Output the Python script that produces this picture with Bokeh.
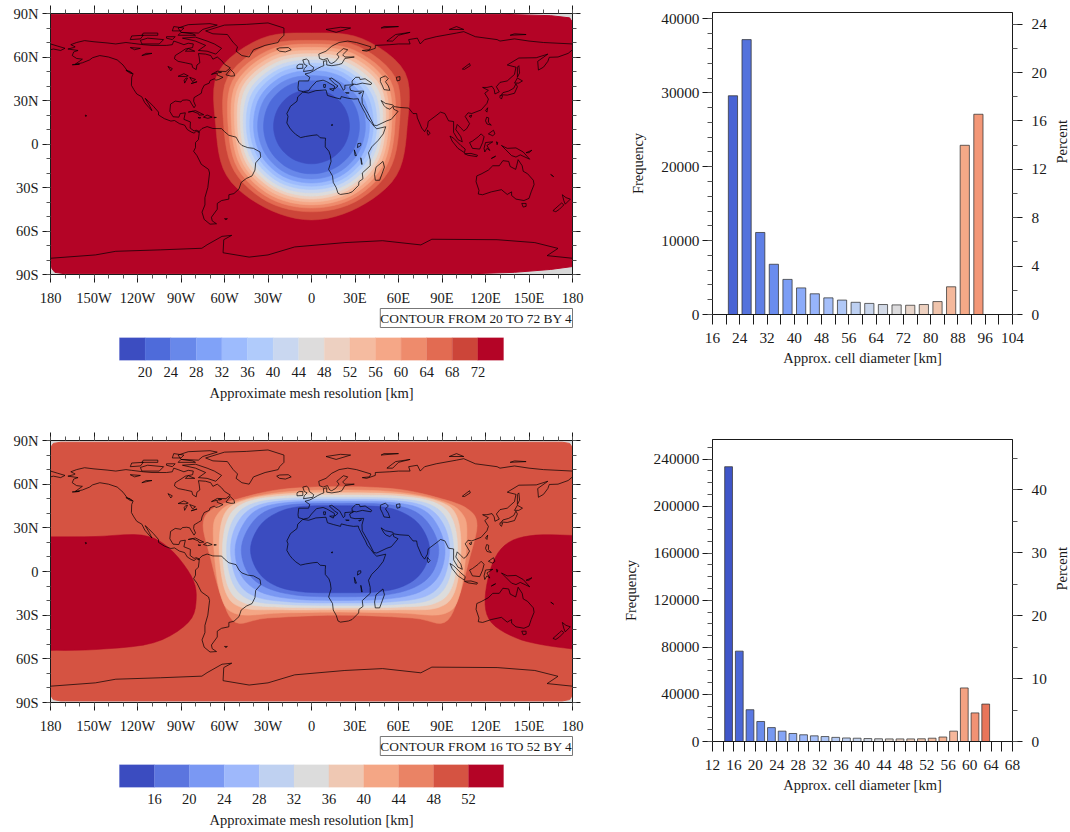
import math
from bokeh.plotting import figure
from bokeh.layouts import column, row
from bokeh.models import Range1d, LinearAxis, FixedTicker, Title, Spacer, PrintfTickFormatter
from bokeh.embed import file_html
from bokeh.resources import INLINE

FONT = "Liberation Serif"
INK = "#1a1a1a"

# ---------- histogram data ----------
hist1_centers = [22, 26, 30, 34, 38, 42, 46, 50, 54, 58, 62, 66, 70, 74, 78, 82, 86, 90, 94]
hist1_freq = [29600, 37200, 11100, 6800, 4750, 3600, 2800, 2250, 1950, 1650, 1500, 1350, 1300, 1250, 1350, 1750, 3750, 22900, 27100]
hist1_colors = ["#4863D4", "#5472DC", "#5F7FE6", "#6A8CEE", "#7B9DF5", "#8BABF9", "#97B4FB", "#A5BFFA", "#B0C8F7", "#BDD0F2",
                "#C8D5EC", "#D2D9E6", "#DCDBDD", "#E8D5CA", "#EDD0BF", "#F0C4AC", "#F4B89B", "#F4A987", "#F39777"]
hist2_centers = [15, 17, 19, 21, 23, 25, 27, 29, 31, 33, 35, 37, 39, 41, 43, 45, 47, 49, 51, 53, 55, 57, 59, 61, 63]
hist2_freq = [233500, 76800, 27000, 17000, 11800, 8800, 6800, 5700, 4800, 4200, 3500, 3000, 2800, 2500, 2300, 2200, 2200, 2200, 2300, 2800, 3800, 8800, 45500, 24300, 31800]
hist2_colors = ["#3F55C8", "#4A66D6", "#5A78E2", "#6A8CEC", "#7799F2", "#85A5F6", "#92B0F9", "#9DB8FB", "#A6C0FA", "#AEC6F8",
                "#B6CBF5", "#BDCFF2", "#C4D3EE", "#CFD7E6", "#D6D8DF", "#E0D5CF", "#E8D0C3", "#EDCBB7", "#F0C5AC", "#F3BC9F",
                "#F4B292", "#F6B79B", "#F4A282", "#F19274", "#E8755A"]

# ---------- colour bars ----------
levels1 = [20, 24, 28, 32, 36, 40, 44, 48, 52, 56, 60, 64, 68, 72]
colors1 = ["#3C4DC1", "#4E6BDA", "#6888EA", "#80A2F8", "#9DBBFD", "#B0CBFB", "#C9D7F0", "#DDDCDC", "#EDD0C1", "#F5BBA0",
           "#F5A787", "#EE8B6C", "#E26B52", "#CC4539", "#B40426"]
levels2 = [16, 20, 24, 28, 32, 36, 40, 44, 48, 52]
colors2 = ["#3B4CC0", "#5B75DF", "#7A98F3", "#9EB8FB", "#BFD1F1", "#DCDCDC", "#EFC8B3", "#F4A685", "#EA8365", "#D55342", "#B40426"]

# ---------- map 1 contours: radius (deg) from centre per bearing ----------
m1_center = (0, 12)
m1_bearings = [0, 30, 60, 90, 120, 150, 180]
m1_radii = [
    [64.6, 70.0, 74.5, 66.0, 67.6, 64.4, 64.4],  # 72
    [59.5, 64.0, 67.0, 60.5, 61.5, 60.0, 58.8],  # 68
    [57.0, 60.5, 63.0, 57.5, 58.5, 57.3, 56.2],  # 64
    [54.7, 58.0, 60.0, 55.2, 56.0, 55.0, 54.0],  # 60
    [52.5, 55.5, 57.5, 53.0, 53.8, 52.8, 52.0],  # 56
    [50.3, 53.0, 55.0, 51.0, 51.6, 50.6, 50.0],  # 52
    [48.2, 50.5, 52.5, 49.0, 49.5, 48.7, 48.0],  # 48
    [46.0, 48.0, 49.5, 47.0, 47.3, 46.6, 45.7],  # 44
    [43.8, 45.5, 47.0, 45.0, 45.0, 44.3, 43.4],  # 40
    [41.4, 43.0, 44.0, 42.6, 42.5, 42.0, 41.1],  # 36
    [38.6, 40.0, 41.0, 40.0, 40.0, 39.5, 38.9],  # 32
    [35.2, 36.6, 37.6, 37.2, 37.0, 36.6, 36.1],  # 28
    [31.7, 32.6, 33.2, 33.1, 33.0, 32.8, 32.6],  # 24
    [25.3, 26.0, 26.2, 26.2, 26.0, 25.8, 25.7],  # 20
]
m1_base = [(-180, 89.5), (130, 89.5), (165, 88.5), (178, 87), (180, 84), (180, -84.5), (165, -86.5), (140, -88.5), (110, -89.5),
           (-170, -89.5), (-177, -88.5), (-179, -86), (-180, -80)]

# ---------- map 2 contours: half outlines (east of the axis) ----------
m2_axis = 19.7
m2_rings = [
    [(0, 58.3), (40, 56.5), (70, 50), (88, 43), (94.5, 32), (89, 8), (82, -17), (72, -35), (50, -32), (0, -30)],
    [(0, 56), (40, 54.5), (70, 48.5), (84, 40), (87.5, 25), (83, -14), (72, -29), (40, -28.5), (0, -27.9)],
    [(0, 54.1), (40, 53.2), (67, 48.5), (80, 39), (83.4, 15), (79, -14), (67, -25), (40, -26.3), (0, -26.3)],
    [(0, 52.5), (40, 51.8), (65, 47.5), (77, 37), (81.1, 15), (77, -11), (65, -22), (40, -24.5), (0, -24.9)],
    [(0, 50.9), (38, 50.2), (62, 46), (74, 35), (78.3, 15), (74, -8), (62, -19.5), (38, -22.7), (0, -23.3)],
    [(0, 49.5), (37, 48.8), (59, 44.5), (71, 33), (75.6, 15), (71, -6), (59, -17), (35, -20.9), (0, -21.7)],
    [(0, 48.2), (35, 47.5), (56, 43), (67, 32), (72.4, 15), (68, -3), (55, -14), (33, -18.8), (0, -19.9)],
    [(0, 46.8), (33, 46), (52, 41), (63, 30), (68.1, 15), (63.5, -1), (51, -11), (30, -16.3), (0, -17.4)],
    [(0, 45.2), (30, 44.3), (47, 38.5), (57, 29), (61.8, 15), (57, 0.5), (46, -9), (28, -13.8), (0, -14.6)],
]
m2_base = [(-180, 85), (-178, 88), (-173, 88.8), (173, 88.8), (178, 88), (180, 85), (180, -85), (178, -88), (173, -88.9),
           (-173, -88.9), (-178, -88), (-180, -85)]
m2_blob_w = [(-180, 23.8), (-150, 24), (-117, 25), (-98.6, 16.4), (-83, -3), (-79.5, -19), (-85, -35), (-109, -49), (-148.6, -53.6), (-180, -54.2)]
m2_blob_e = [(180, 24.8), (154.5, 25), (136, 20), (125, 6), (119.7, -19), (124, -35), (141, -45.6), (160, -50.5), (180, -53.2)]

# ---------- coastlines ----------
coasts = [
    # North America
    [(-168, 65.5), (-164, 66.5), (-163, 67), (-166, 68.5), (-162, 70), (-156.5, 71.3), (-150, 70.5), (-141, 69.7), (-135, 69), (-128, 70), (-124, 69.5),
     (-116, 68.5), (-110, 68), (-100, 68), (-96, 68.5), (-95, 71), (-92, 70), (-88, 68.5), (-85, 69.5), (-81.5, 69), (-82, 66.5), (-87, 65.5), (-90, 63.5),
     (-94, 61), (-94.5, 58.8), (-92, 57), (-87, 56), (-82.5, 55), (-82, 52.8), (-79.5, 51.3), (-79, 54.5), (-77, 56), (-77.5, 60), (-78, 62.4), (-73, 62),
     (-69.5, 61), (-68, 58.5), (-65, 60), (-62, 57.5), (-60, 55), (-56, 52.5), (-59, 50), (-65, 50.2), (-69, 48), (-65, 49), (-65, 47.5), (-61, 46), (-64, 44.5),
     (-66, 44), (-67, 45), (-70, 43.7), (-70.5, 42), (-74, 40.5), (-75.5, 37.5), (-76, 35), (-78, 33.8), (-81, 32), (-81.3, 29.5), (-80, 26.5), (-81, 25),
     (-82.7, 27.7), (-84, 30), (-86, 30.4), (-89, 30.2), (-90, 29), (-94, 29.6), (-97.2, 27.5), (-97.7, 22.5), (-95.5, 18.8), (-91.5, 18.5), (-90.5, 21),
     (-87, 21.5), (-88, 17), (-83.5, 15.2), (-83.7, 11), (-81, 9), (-79.5, 9.5), (-77.5, 8.7), (-77.5, 8), (-79.5, 8.8), (-81, 7.5), (-83, 8.3), (-85.7, 10),
     (-87.5, 13), (-91, 14), (-94.5, 16.2), (-97, 15.8), (-101.5, 17.5), (-105.5, 20), (-105.5, 22), (-109, 26), (-112.5, 29.5), (-114.7, 31.5), (-112, 27),
     (-110, 23), (-112, 25), (-115, 28.5), (-117, 32.5), (-120.5, 34.5), (-122.5, 37.5), (-124.2, 40.5), (-124, 46), (-123, 48.5), (-127, 50.5), (-130, 54.5),
     (-134, 58), (-140, 60), (-146, 61), (-151, 59.5), (-153, 58), (-158, 56), (-163, 55), (-158, 58.5), (-162, 59), (-165, 61), (-164, 63.5), (-161, 64.5), (-168, 65.5)],
    # South America
    [(-77.5, 8.7), (-75.5, 10.7), (-72, 12), (-68, 10.7), (-62, 10.6), (-60, 8.5), (-57, 6), (-52, 4.7), (-50, 1), (-48, -1), (-44, -2.5), (-40, -3), (-35.5, -5.5),
     (-35, -9), (-38.5, -13), (-39, -18), (-41, -22), (-45, -23.8), (-48.5, -26.5), (-50, -31), (-53.5, -34.2), (-57, -35), (-57, -38), (-62, -39), (-65, -41),
     (-65, -45), (-69, -50.5), (-68.5, -53), (-65.5, -55), (-70, -55.3), (-74, -52), (-75.5, -47), (-73.5, -42), (-73.5, -37), (-71.5, -30), (-70.3, -20), (-71, -17.5),
     (-76, -14), (-79, -8), (-81.3, -5), (-80, -2.5), (-80, 1), (-78, 3), (-77.5, 7), (-77.5, 8.7)],
    # Africa
    [(-6, 35.8), (-2, 35.2), (3, 36.8), (10, 37.3), (11, 33.5), (15, 32.3), (20, 31), (20.5, 32.7), (25, 31.6), (29, 31), (32.3, 31.2), (32.6, 29.8), (35, 25),
     (37.2, 21), (38.5, 18), (41, 15), (43.3, 12), (45, 10.5), (51.2, 11.9), (49.5, 7), (46, 2.5), (41.5, -2), (39.3, -6), (40.5, -11), (40.5, -15), (35, -20),
     (35.5, -24), (32.7, -26), (32.5, -28.5), (28, -33), (25.5, -34), (20, -34.8), (18.3, -34), (17, -30), (15, -26.5), (14.5, -22), (11.8, -17.5), (13.5, -12),
     (13, -8), (12, -5), (9.5, -2), (9.5, 1.5), (9.7, 4), (6, 4.3), (4, 6.3), (1, 6), (-4, 5.2), (-7.5, 4.4), (-11, 6.7), (-13.3, 9), (-15, 11), (-17, 14.5),
     (-16.2, 19), (-17, 21), (-14.5, 26), (-10, 29.5), (-9.5, 32.5), (-6, 35.8)],
    # Eurasia
    [(-9, 37), (-9.3, 39), (-8.8, 43.5), (-2, 43.5), (-1.2, 46), (-4.5, 48.3), (-1.5, 49), (1.5, 50.5), (4, 52), (7, 53.5), (8.5, 54), (8.2, 57), (10.5, 57.5),
     (10.5, 54.5), (14, 54), (18.5, 54.7), (21, 55.5), (23, 59), (29.5, 60), (23, 60), (21.5, 61.5), (25, 65), (22, 65.8), (17.5, 62), (19, 60), (16.5, 57),
     (14, 55.5), (12.5, 56), (11, 59), (8, 58), (5.5, 59), (5, 62), (10, 64), (14, 67.5), (19, 70), (25, 71), (31, 70), (41, 67), (40, 65), (35, 64.5), (38, 64),
     (44, 66), (44, 68), (54, 68.5), (60, 69), (68, 69), (67, 72), (73, 73), (75, 69), (78, 72), (86, 74), (100, 76.5), (105, 77.5), (113, 74), (128, 72), (130, 71),
     (140, 72.5), (150, 71), (160, 70), (170, 69.5), (180, 69)],
    [(-180, 69), (-175, 67.5), (-170, 66), (-173, 64.5), (-178, 65.5), (-180, 65)],
    [(180, 65), (177, 62.5), (170, 60), (164, 59.8), (163, 57), (160, 53), (156.5, 51), (156, 57), (163, 62), (155, 59.5), (143, 59.3), (135, 54.5), (141, 53),
     (140, 48), (135, 43.5), (130, 42.5), (127.5, 39.5), (129.5, 36), (126.5, 34.5), (126, 37.5), (124.5, 39.8), (121, 39), (118, 39), (122, 37), (119.5, 35),
     (122, 31), (121, 28), (117, 23.5), (110.5, 21), (108, 21.5), (106, 19), (109, 14), (107, 10.5), (105, 9), (103, 11), (100.5, 13.5), (99.5, 10), (103, 5),
     (104, 1.5), (101, 3), (98, 8), (98, 15.5), (94.5, 16), (92, 21), (89, 22), (86.5, 20), (80.5, 15.5), (80, 12), (78, 8.5), (76, 11), (73, 18), (72.5, 21),
     (70, 21), (67, 24.8), (61, 25.2), (57, 25.8), (56, 27), (51, 28), (48, 30), (50, 26.5), (51.5, 25), (54, 24), (56.3, 26), (56.7, 24), (59.7, 22.5), (55, 17),
     (52, 16), (45, 12.7), (43, 13), (39, 21), (35, 28), (34.8, 32), (36, 36.5), (30, 36.3), (27, 37), (26.3, 39.5), (29, 41), (26, 40.7), (23, 40.5), (23, 38),
     (22, 37), (19.5, 41.5), (14, 45.5), (12.3, 45), (16, 41.5), (18.3, 40), (16, 38), (15.7, 40), (10.5, 43), (8, 44), (3.5, 43.2), (0, 39.5), (-2, 36.8),
     (-5.5, 36), (-9, 37)],
    # Inland seas and lakes
    [(28, 41.5), (28, 43.5), (30.5, 46), (33, 46), (33.5, 44.5), (37, 45), (41.5, 42), (41, 41), (35, 42), (31, 41), (28, 41.5)],
    [(47.5, 45.5), (51, 47), (53, 45), (51, 43), (53, 40), (54, 37), (50, 37.5), (49, 40), (47.5, 43), (47.5, 45.5)],
    [(58.5, 46), (61, 46.5), (61, 44), (59, 43.5), (58.5, 46)],
    [(104, 51.7), (109, 55.5), (109.5, 54), (105.5, 51.5), (104, 51.7)],
    [(31.7, -2.5), (34, -1), (34, 0.5), (32, 0.3), (31.7, -2.5)],
    [(29.5, -4), (30, -8), (31, -8), (29.5, -4)],
    [(34, -9.5), (34.5, -14), (35, -14), (34, -9.5)],
    [(13.5, 13), (14.5, 13.5), (14.5, 12.8), (13.5, 13)],
    [(-92, 46.7), (-88, 48.5), (-85, 47), (-87, 46.5), (-92, 46.7)],
    [(-87.5, 42), (-85.5, 45.5), (-86.5, 45.5), (-87.8, 44), (-87.5, 42)],
    [(-84, 46), (-80, 44.5), (-82, 43), (-84, 46)],
    [(-83, 41.7), (-79, 42.8), (-79, 43), (-83, 41.7)],
    [(-125, 66.5), (-118, 66), (-122, 65), (-125, 66.5)],
    [(-117, 61), (-110, 62.5), (-114, 62.5), (-117, 61)],
    [(-99, 53.5), (-97, 50.5), (-96, 52), (-99, 53.5)],
    # Greenland and the Arctic
    [(-73, 78), (-68, 76), (-58, 75.5), (-54, 70), (-51, 67), (-52, 64), (-48, 61), (-43, 60), (-40, 65), (-32, 68), (-23, 70), (-22, 72), (-19, 75), (-19, 80),
     (-30, 83.5), (-45, 82.5), (-60, 82), (-73, 78)],
    [(-62, 66), (-66, 62), (-72, 64), (-78, 64.5), (-73, 68), (-80, 71), (-89, 73), (-80, 73.7), (-72, 71), (-67, 69), (-62, 66)],
    [(-90, 77), (-78, 76.5), (-75, 79), (-65, 82), (-70, 83), (-85, 82.3), (-92, 80), (-90, 77)],
    [(-117, 69), (-105, 69), (-102, 72), (-113, 73), (-118, 71.5), (-117, 69)],
    [(-125, 72), (-118, 72.5), (-116, 75), (-124, 74.5), (-125, 72)],
    [(-92, 75), (-80, 75), (-82, 76), (-90, 77), (-92, 75)],
    [(-117, 75), (-106, 75), (-106, 76.5), (-116, 76.5), (-117, 75)],
    [(-100, 73), (-96, 72), (-94, 74), (-100, 74), (-100, 73)],
    [(-96, 78), (-90, 78), (-88, 80), (-95, 81), (-96, 78)],
    [(-87, 64), (-80.5, 64), (-85, 65.8), (-87, 64)],
    [(-59, 47.7), (-55.5, 46.8), (-53, 47), (-53.5, 49), (-56, 51.5), (-59, 47.7)],
    [(-64, 49), (-62, 49.5), (-64, 49.8), (-64, 49)],
    [(-24, 65.5), (-22, 64), (-18, 63.5), (-14, 65), (-16, 66.5), (-22, 66.3), (-24, 65.5)],
    [(10, 79), (20, 80.5), (27, 80), (17, 77), (10, 79)],
    [(52, 71), (56, 71), (60, 75), (68, 77), (58, 75.5), (52, 71)],
    [(95, 79), (105, 79), (100, 81), (95, 79)],
    [(137, 75), (148, 75.5), (140, 76), (137, 75)],
    [(48, 80), (60, 81), (50, 81), (48, 80)],
    # Europe
    [(-5.5, 50), (1, 51), (1.5, 52.8), (-1.5, 55), (-2, 57.5), (-3.5, 58.6), (-6, 58), (-5, 55), (-3, 54), (-5, 52), (-5.5, 50)],
    [(-10, 52), (-6, 52.2), (-6, 55), (-8.5, 55), (-10, 54), (-10, 52)],
    [(12.5, 38), (15.5, 38.2), (15, 36.7), (12.5, 38)],
    [(8.3, 41), (9.7, 41), (9.5, 39), (8.5, 39), (8.3, 41)],
    [(23.5, 35.5), (26, 35.2), (24, 35), (23.5, 35.5)],
    [(32.5, 35), (34.5, 35.5), (33, 34.7), (32.5, 35)],
    # East Asia and the islands
    [(131, 34), (135, 33.7), (140, 35), (142, 39.5), (141, 41.5), (139.5, 38.5), (136, 36.5), (132, 35.4), (131, 34)],
    [(140, 42), (143, 42), (145.5, 43.5), (142, 45.5), (140, 42)],
    [(130, 33.5), (131.8, 33.3), (131, 31), (130, 32), (130, 33.5)],
    [(142, 46), (143.5, 49), (143, 54), (142, 53), (142, 46)],
    [(120, 23), (121.5, 25), (121, 22), (120, 23)],
    [(108.7, 19.2), (110.5, 20), (110, 18.3), (108.7, 19.2)],
    [(120, 16), (120.8, 18.5), (122.2, 18), (122, 15), (124, 13), (121, 13.8), (120, 16)],
    [(122, 7), (125.5, 9.5), (126.5, 7), (125, 5.7), (122, 7)],
    [(109, 1), (111, 2), (115, 5), (117, 7), (119, 5), (118, 1), (116, -3.5), (111, -3), (109, 1)],
    [(95.5, 5.5), (98, 4), (103, -1), (106, -3.5), (105.5, -6), (101, -3), (97, 2), (95.5, 5.5)],
    [(105.5, -6.7), (110, -6.5), (114.5, -7.8), (114, -8.7), (108, -7.8), (105.5, -6.7)],
    [(119.5, -5.5), (119, -3), (120, 1), (125, 1.5), (121, -1), (123, -4.5), (121, -3), (119.5, -5.5)],
    [(131, -1), (135, -3), (141, -2.7), (146, -5.5), (150.5, -10.5), (144, -7.5), (141, -9), (138, -8), (134, -4), (131, -1)],
    [(148, -6), (152, -4.3), (150, -6), (148, -6)],
    [(124, -10), (127, -8.4), (124, -10)],
    [(127.5, 1.5), (128, -0.5), (128.5, 1), (127.5, 1.5)],
    [(-165, 54.5), (-160, 55), (-165, 54.8)],
    # Oceania
    [(114, -22), (113.5, -26), (115.5, -32), (115, -34.5), (118, -35), (124, -33), (131, -31.5), (135, -34.8), (138, -33), (138, -35.5), (141, -38), (146.5, -39),
     (150, -37.5), (151.5, -33), (153.5, -28), (153, -25), (149, -20.5), (146, -18.8), (145.3, -15), (142.5, -10.8), (141.5, -15), (140.8, -17.5), (137, -15.5),
     (136, -12), (132, -11.5), (129.5, -15), (125, -15), (122, -18), (117, -20.7), (114, -22)],
    [(145, -41), (148, -41), (148, -43), (146, -43.5), (145, -41)],
    [(173, -35), (175.5, -37), (178.5, -38), (175, -41.5), (174, -39), (173, -35)],
    [(172.5, -40.7), (174, -42), (171, -45), (168.5, -46.7), (166.5, -46), (171, -42), (172.5, -40.7)],
    [(165, -21), (167, -22.5), (165.5, -21.5), (165, -21)],
    # Indian Ocean and Caribbean
    [(49.3, -12), (50.3, -16), (47, -25), (44, -25), (43.5, -21), (44.5, -16), (49.3, -12)],
    [(80, 9.7), (81.8, 7.5), (80.5, 6), (79.8, 8), (80, 9.7)],
    [(-85, 22), (-80, 23), (-74.3, 20.2), (-77.5, 19.9), (-78, 21), (-82, 22.5), (-85, 22)],
    [(-74.5, 18.5), (-72, 20), (-68.5, 18.5), (-71.5, 17.7), (-74.5, 18.5)],
    [(-67.2, 18), (-65.6, 18.3), (-67.2, 18.5), (-67.2, 18)],
    [(-78.3, 18.3), (-76.3, 18.1), (-77.5, 17.8), (-78.3, 18.3)],
    [(-128, 50.8), (-125, 50), (-123.5, 48.5), (-125, 48.8), (-128, 50.8)],
    [(-60, -51.5), (-58, -51.5), (-59, -52.3), (-60, -51.5)],
    [(-156, 20), (-155, 19.5), (-155.8, 19), (-156, 20)],
    # Antarctica
    [(-180, -78.8), (-149, -76.5), (-135, -74), (-104, -73), (-75.6, -71.9), (-72, -69.5), (-61.7, -63.7), (-55, -63), (-60.5, -66), (-61, -75), (-43, -78),
     (-30, -76.5), (-11.6, -71), (23, -68), (49, -66.7), (75.4, -69.6), (83, -65.7), (128, -66), (154, -68), (170, -72), (162.5, -77), (180, -78.8)],
]


def smooth(points, closed=True, steps=6):
    n = len(points)
    out = []
    seg = n if closed else n - 1
    for i in range(seg):
        if closed:
            p0, p1, p2, p3 = points[i - 1], points[i], points[(i + 1) % n], points[(i + 2) % n]
        else:
            p0, p1, p2, p3 = points[max(i - 1, 0)], points[i], points[i + 1], points[min(i + 2, n - 1)]
        for s in range(steps):
            t = s / steps
            out.append(tuple(0.5 * (2 * p1[k] + (p2[k] - p0[k]) * t + (2 * p0[k] - 5 * p1[k] + 4 * p2[k] - p3[k]) * t ** 2
                                    + (3 * p1[k] - p0[k] - 3 * p2[k] + p3[k]) * t ** 3) for k in (0, 1)))
    if not closed:
        out.append(points[-1])
    return out


def ring_from_radii(radii):
    east = [(radii[i] * math.sin(math.radians(b)), radii[i] * math.cos(math.radians(b))) for i, b in enumerate(m1_bearings)]
    west = [(-x, y) for x, y in east[-2:0:-1]]
    pts = [(m1_center[0] + x, m1_center[1] + y) for x, y in east + west]
    return smooth(pts)


def ring_from_half(half):
    west = [(-x, y) for x, y in half[-2:0:-1]]
    pts = [(m2_axis + x, y) for x, y in half + west]
    return smooth(pts)


LEFT_W = 618


def map_figure(top, frame_h, bottom, base, base_color, fill_rings, label_text):
    left, right = 50, LEFT_W - 50 - 522
    p = figure(width=LEFT_W, height=top + frame_h + bottom, x_range=Range1d(-180, 180), y_range=Range1d(-90, 90),
               toolbar_location=None, output_backend="svg", min_border_left=left, min_border_right=right,
               min_border_top=top, min_border_bottom=bottom, x_axis_location=None, y_axis_location=None)
    p.grid.visible = False
    p.outline_line_color = INK
    p.background_fill_color = "#D8D8D8"
    p.patch([c[0] for c in base], [c[1] for c in base], fill_color=base_color, line_color=base_color)
    for pts, col in fill_rings:
        p.patch([c[0] for c in pts], [c[1] for c in pts], fill_color=col, line_color=col, line_width=0.5)
    p.multi_line([[c[0] for c in line] for line in coasts], [[c[1] for c in line] for line in coasts], line_color="#000000", line_width=0.7)

    lon_major = list(range(-180, 181, 30))
    lon_minor = list(range(-180, 181, 10))
    lat_major = list(range(-90, 91, 30))
    lat_minor = list(range(-90, 91, 10))
    lon_text = {v: ("180" if abs(v) == 180 else "0" if v == 0 else f"{abs(v)}{'W' if v < 0 else 'E'}") for v in lon_major}
    lat_text = {v: ("0" if v == 0 else f"{abs(v)}{'S' if v < 0 else 'N'}") for v in lat_major}
    for side, is_x in (("below", True), ("left", False), ("above", True), ("right", False)):
        ax = LinearAxis(ticker=FixedTicker(ticks=lon_major if is_x else lat_major, minor_ticks=lon_minor if is_x else lat_minor))
        ax.major_tick_out, ax.major_tick_in, ax.minor_tick_out, ax.minor_tick_in = 8, 0, 4, 0
        ax.axis_line_color = INK
        ax.major_tick_line_color = INK
        ax.minor_tick_line_color = "#555555"
        ax.major_label_text_font = FONT
        ax.major_label_text_color = INK
        if side in ("below", "left"):
            ax.major_label_overrides = lon_text if is_x else lat_text
            ax.major_label_text_font_size = "14.5px"
            ax.major_label_standoff = 7 if is_x else 4
        else:
            ax.major_label_overrides = {v: "" for v in (lon_major if is_x else lat_major)}
            ax.major_label_text_font_size = "1px"
            ax.major_label_standoff = 0
        p.add_layout(ax, side)
    p.add_layout(Title(text=label_text, align="right", text_font=FONT, text_font_size="13.4px", text_font_style="normal", text_color=INK,
                       text_line_height=0.8, border_line_color="#777777", background_fill_color="#ffffff", padding=(0, 2), standoff=-4), "below")
    return p


def bar_figure(levels, colors, height, top, frame_h):
    edges = [levels[0] - (levels[1] - levels[0])] + levels + [levels[-1] + (levels[-1] - levels[-2])]
    ppu = 384.0 / (edges[-1] - edges[0])     # pixels per km of the strip
    low = edges[0] - (119 - 50) / ppu
    high = edges[-1] + (572 - 503) / ppu
    p = figure(width=LEFT_W, height=height, x_range=Range1d(low, high), y_range=Range1d(0, 1), toolbar_location=None, output_backend="svg",
               min_border_left=50, min_border_right=LEFT_W - 50 - 522, min_border_top=top, min_border_bottom=height - top - frame_h,
               x_axis_location="below", y_axis_location=None)
    p.grid.visible = False
    p.outline_line_color = None
    p.quad(left=edges[:-1], right=edges[1:], bottom=0, top=1, fill_color=colors, line_color=colors, line_width=0.3)
    ax = p.xaxis[0]
    ax.ticker = FixedTicker(ticks=levels)
    ax.major_tick_out = 0
    ax.major_tick_in = 0
    ax.minor_tick_out = 0
    ax.minor_tick_in = 0
    ax.major_tick_line_color = None
    ax.minor_tick_line_color = None
    ax.axis_line_color = None
    ax.major_label_text_font = FONT
    ax.major_label_text_font_size = "14.5px"
    ax.major_label_text_color = INK
    ax.major_label_standoff = 6
    ax.axis_label = "Approximate mesh resolution [km]"
    ax.axis_label_text_font = FONT
    ax.axis_label_text_font_style = "normal"
    ax.axis_label_text_font_size = "14.5px"
    ax.axis_label_text_color = INK
    ax.axis_label_standoff = 5
    return p


def hist_figure(height, frame_h, top, centers, freq, colors, width_km, xr, x_major, x_minor, yr, pr, y_major, y_minor, p_major, p_minor, standoff_l):
    left, right = 94, 65
    p = figure(width=left + 303 + right, height=height, x_range=Range1d(*xr), y_range=Range1d(0, yr), toolbar_location=None, output_backend="svg",
               min_border_left=left, min_border_right=right, min_border_top=top, min_border_bottom=height - top - frame_h,
               x_axis_location=None, y_axis_location=None)
    p.extra_y_ranges = {"pct": Range1d(0, pr)}
    p.grid.visible = False
    p.outline_line_color = INK
    p.vbar(x=centers, top=freq, width=width_km, fill_color=colors, line_color="#333333", line_alpha=0.75, line_width=1)

    def style(ax):
        ax.major_label_text_font = FONT
        ax.major_label_text_font_size = "15.3px"
        ax.major_label_text_color = INK
        ax.axis_label_text_font = FONT
        ax.axis_label_text_font_style = "normal"
        ax.axis_label_text_font_size = "14.5px"
        ax.axis_label_text_color = INK
        ax.axis_line_color = INK
        ax.major_tick_line_color = INK
        ax.minor_tick_line_color = "#555555"

    bx = LinearAxis(ticker=FixedTicker(ticks=x_major, minor_ticks=x_minor), axis_label="Approx. cell diameter [km]")
    style(bx)
    bx.major_tick_out, bx.major_tick_in, bx.minor_tick_out, bx.minor_tick_in = 10, 0, 10, 0
    bx.minor_tick_line_color = INK
    bx.major_label_standoff = 8
    bx.axis_label_standoff = 4
    p.add_layout(bx, "below")

    ly = LinearAxis(ticker=FixedTicker(ticks=y_major, minor_ticks=y_minor), axis_label="Frequency", formatter=PrintfTickFormatter(format="%d"))
    style(ly)
    ly.major_tick_out, ly.major_tick_in, ly.minor_tick_out, ly.minor_tick_in = 10, 0, 5, 0
    ly.major_label_standoff = 3
    ly.axis_label_standoff = standoff_l
    p.add_layout(ly, "left")

    ry = LinearAxis(y_range_name="pct", ticker=FixedTicker(ticks=p_major, minor_ticks=p_minor), axis_label="Percent")
    style(ry)
    ry.major_tick_out, ry.major_tick_in, ry.minor_tick_out, ry.minor_tick_in = 10, 0, 5, 0
    ry.major_label_standoff = 9
    ry.axis_label_standoff = 12
    ry.axis_label_orientation = math.pi / 2
    p.add_layout(ry, "right")
    return p


rings1 = [(ring_from_radii(r), colors1[13 - i]) for i, r in enumerate(m1_radii)]
rings2 = [(smooth(m2_blob_w, closed=False, steps=5), colors2[10]), (smooth(m2_blob_e, closed=False, steps=5), colors2[10])]
rings2 += [(ring_from_half(h), colors2[8 - i]) for i, h in enumerate(m2_rings)]

map1 = map_figure(13, 261, 60, m1_base, colors1[14], rings1, "CONTOUR FROM 20 TO 72 BY 4")
cb1 = bar_figure(levels1, colors1, 72, 3, 23)
map2 = map_figure(10, 262, 60, m2_base, colors2[9], rings2, "CONTOUR FROM 16 TO 52 BY 4")
cb2 = bar_figure(levels2, colors2, 70, 2, 23)

hist1 = hist_figure(374, 302, 12, hist1_centers, hist1_freq, hist1_colors, 2.7, (16, 104),
                    list(range(16, 105, 8)), list(range(20, 105, 8)), 40870, 24.96,
                    list(range(0, 40001, 10000)), list(range(0, 40001, 2000)), list(range(0, 25, 4)), list(range(0, 25, 2)), 12)
hist2 = hist_figure(371, 302, 9, hist2_centers, hist2_freq, hist2_colors, 1.45, (12, 68),
                    list(range(12, 69, 4)), list(range(14, 69, 4)), 256640, 48,
                    list(range(0, 240001, 40000)), list(range(0, 250001, 10000)), list(range(0, 41, 10)), list(range(0, 46, 5)), 12)

left_col = column(map1, cb1, Spacer(height=24), map2, cb2, spacing=0)
right_col = column(hist1, Spacer(height=56), hist2, spacing=0)
root = row(left_col, right_col, spacing=0)

html = file_html(root, INLINE).replace("<head>", "<head><style>html,body{overflow:hidden}</style>", 1)
open("out.html", "w").write(html)
